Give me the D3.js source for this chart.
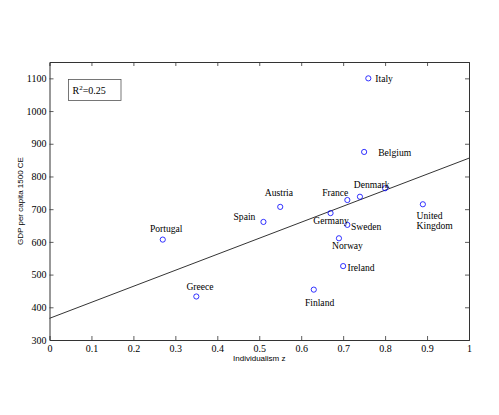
<!DOCTYPE html>
<html>
<head>
<meta charset="utf-8">
<script src="https://cdn.jsdelivr.net/npm/d3@7"></script>
<style>
  html, body { margin: 0; padding: 0; background: #fff; }
  svg { display: block; }
</style>
</head>
<body>
<svg id="chart" width="499" height="415"></svg>
<script>
// ---- data ----
const countries = ["Italy", "Belgium", "Denmark", "France", "Unlabeled", "Austria", "Spain", "Germany",
                   "Sweden", "United Kingdom", "Norway", "Portugal", "Greece", "Finland", "Ireland"];
const individualism = [0.76, 0.75, 0.80, 0.71, 0.74, 0.55, 0.51, 0.67, 0.71, 0.89, 0.69, 0.27, 0.35, 0.63, 0.70];
const gdp1500 = [1100, 875, 764, 728, 738, 707, 661, 688, 652, 715, 611, 607, 433, 454, 526];
const labelLines = [["Italy"], ["Belgium"], ["Denmark"], ["France"], [], ["Austria"], ["Spain"], ["Germany"],
                    ["Sweden"], ["United", "Kingdom"], ["Norway"], ["Portugal"], ["Greece"], ["Finland"], ["Ireland"]];
// label placement relative to the marker (pixels) and anchor
const labelDx = [7, 14, -13.5, -12, 0, -1.3, -19, 0.5, 3.7, -6.3, 8.5, 3.4, 3.7, 5.8, 4.3];
const labelDy = [0.6, 0.6, -3.3, -7.3, 0, -14.7, -5.3, 8, 1.3, 11, 7.7, -11.4, -9.4, 13, 1.3];
const labelAnchor = ["start", "start", "middle", "middle", "middle", "middle", "middle", "middle",
                     "start", "start", "middle", "middle", "middle", "middle", "start"];
const xTicks = [0, 0.1, 0.2, 0.3, 0.4, 0.5, 0.6, 0.7, 0.8, 0.9, 1];
const yTicks = [300, 400, 500, 600, 700, 800, 900, 1000, 1100];
const xTitle = "Individualism z";
const yTitle = "GDP per capita 1500 CE";
const r2Text = "0.25";

// ---- layout ----
const L = 49.5, R = 469, T = 62, B = 340;
const x = d3.scaleLinear().domain([0, 1]).range([L, R]);
const y = d3.scaleLinear().domain([300, 1150]).range([B, T]);

const svg = d3.select("#chart");
const serif = "'Liberation Serif', 'Times New Roman', serif";
const sans = "'Liberation Sans', Arial, Helvetica, sans-serif";

// regression line (least squares from the data)
const n = individualism.length;
const mx = d3.mean(individualism), my = d3.mean(gdp1500);
let sxy = 0, sxx = 0;
for (let i = 0; i < n; i++) {
  sxy += (individualism[i] - mx) * (gdp1500[i] - my);
  sxx += (individualism[i] - mx) ** 2;
}
const slope = sxy / sxx, icpt = my - slope * mx;
svg.append("line")
  .attr("x1", x(0)).attr("y1", y(icpt))
  .attr("x2", x(1)).attr("y2", y(icpt + slope))
  .attr("stroke", "#000").attr("stroke-width", 0.8);

// axes (MATLAB-style box with inward ticks)
const tickLen = 4;
const fmtX = d => (d === 0 ? "0" : d === 1 ? "1" : d3.format(".1f")(d));

const gBottom = svg.append("g").attr("transform", `translate(0,${B})`)
  .call(d3.axisBottom(x).tickValues(xTicks).tickSize(-tickLen).tickPadding(5).tickFormat(fmtX));
const gTop = svg.append("g").attr("transform", `translate(0,${T})`)
  .call(d3.axisTop(x).tickValues(xTicks).tickSize(-tickLen).tickFormat(""));
const gLeft = svg.append("g").attr("transform", `translate(${L},0)`)
  .call(d3.axisLeft(y).tickValues(yTicks).tickSize(-tickLen).tickPadding(3).tickFormat(d3.format("d")));
const gRight = svg.append("g").attr("transform", `translate(${R},0)`)
  .call(d3.axisRight(y).tickValues(yTicks).tickSize(-tickLen).tickFormat(""));

[gBottom, gTop, gLeft, gRight].forEach(g => {
  g.select(".domain").attr("stroke", "#333").attr("stroke-width", 1);
  g.selectAll(".tick line").attr("stroke", "#333").attr("stroke-width", 0.8);
  g.selectAll(".tick text").attr("fill", "#000").style("font-family", serif).style("font-size", "10px");
});
// hide tick marks exactly at the corners to keep box clean
gBottom.selectAll(".tick").filter(d => d === 0 || d === 1).select("line").attr("stroke", "none");
gTop.selectAll(".tick").filter(d => d === 0 || d === 1).select("line").attr("stroke", "none");
gLeft.selectAll(".tick").filter(d => d === 300).select("line").attr("stroke", "none");
gRight.selectAll(".tick").filter(d => d === 300).select("line").attr("stroke", "none");

// markers
svg.append("g").selectAll("circle")
  .data(d3.range(n))
  .join("circle")
  .attr("cx", i => x(individualism[i]))
  .attr("cy", i => y(gdp1500[i]))
  .attr("r", 2.6)
  .attr("fill", "none")
  .attr("stroke", "#0000ff")
  .attr("stroke-width", 0.8);

// country labels
const lg = svg.append("g").style("font-family", serif).style("font-size", "9.6px").attr("fill", "#000");
d3.range(n).forEach(i => {
  const lines = labelLines[i];
  if (!lines.length) return;
  const t = lg.append("text")
    .attr("text-anchor", labelAnchor[i])
    .attr("x", x(individualism[i]) + labelDx[i])
    .attr("y", y(gdp1500[i]) + labelDy[i]);
  lines.forEach((s, k) => {
    t.append("tspan")
      .attr("x", x(individualism[i]) + labelDx[i])
      .attr("dy", k === 0 ? "0.35em" : "1.1em")
      .text(s);
  });
});

// R^2 box
svg.append("rect").attr("x", 68.5).attr("y", 79.5).attr("width", 52.5).attr("height", 21)
  .attr("fill", "#fff").attr("stroke", "#555").attr("stroke-width", 0.8);
const rt = svg.append("text").attr("x", 72.5).attr("y", 93.5)
  .style("font-family", serif).style("font-size", "10px").attr("fill", "#000");
rt.append("tspan").text("R");
rt.append("tspan").attr("dy", -4).style("font-size", "7px").text("2");
rt.append("tspan").attr("dy", 4).text("=" + r2Text);

// axis titles
svg.append("text").attr("x", (L + R) / 2).attr("y", 361)
  .attr("text-anchor", "middle").style("font-family", sans).style("font-size", "8px")
  .attr("fill", "#000").text(xTitle);
svg.append("text").attr("transform", `translate(23,${(T + B) / 2}) rotate(-90)`)
  .attr("text-anchor", "middle").style("font-family", sans).style("font-size", "8px")
  .attr("fill", "#000").text(yTitle);
</script>
</body>
</html>
